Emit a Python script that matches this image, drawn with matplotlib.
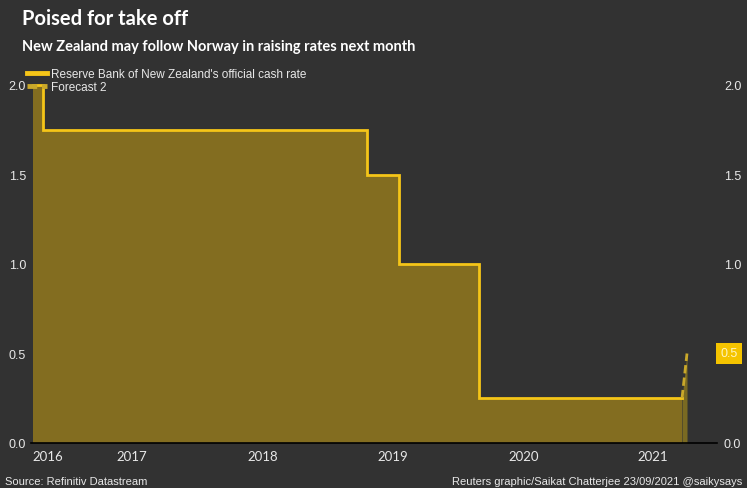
import pandas as pd
import matplotlib.pyplot as plt
import matplotlib.transforms as mtransforms
from matplotlib.lines import Line2D

# RBNZ official cash rate (step changes)
rate_dates = ["2016-10-14", "2016-11-10", "2019-05-08", "2019-08-07", "2020-03-16", "2021-10-07"]
rate_values = [2.0, 1.75, 1.5, 1.0, 0.25, 0.25]

# forecast leg
forecast_dates = ["2021-10-07", "2021-10-21"]
forecast_values = [0.25, 0.5]

tick_dates = ["2016-11-25", "2017-07-19", "2018-07-20", "2019-07-19", "2020-07-19", "2021-07-17"]
tick_labels = ["2016", "2017", "2018", "2019", "2020", "2021"]
y_ticks = [0.0, 0.5, 1.0, 1.5, 2.0]
highlight_value = 0.5

BG = "#323232"
FILL = "#836d20"
LINE = "#f5c518"
TXT = "#e8e8e8"
NARROW = ["Liberation Sans", "DejaVu Sans"]
HEAD = ["Lato", "DejaVu Sans"]

rd = pd.to_datetime(rate_dates)
fd = pd.to_datetime(forecast_dates)

fig = plt.figure(figsize=(7.47, 4.89), dpi=100, facecolor=BG)
W, H = 747, 489
left, right, bottom = 33, 687, 444
ymax = 2.2
top = bottom - ymax * 179
ax = fig.add_axes([left / W, 1 - bottom / H, (right - left) / W, (bottom - top) / H])
ax.set_facecolor(BG)

ax.fill_between(rd, rate_values, step="post", color=FILL, lw=0)
ax.fill_between(fd, forecast_values, color="#7a6a22", lw=0)
ax.step(rd, rate_values, where="post", color=LINE, lw=2, clip_on=False, solid_joinstyle="miter")
ax.plot(fd, forecast_values, color="#c9a82a", lw=2, ls=(0, (3, 1.5)), clip_on=False)

ax.set_xlim(rd[0], fd[-1])
ax.set_ylim(0, ymax)

for s in ax.spines.values():
    s.set_visible(False)

# baseline extending toward the right-hand labels
ax.plot([-0.003, 1.046], [0, 0], color="black", lw=1.2, transform=ax.get_yaxis_transform(), clip_on=False)

ax.set_xticks(pd.to_datetime(tick_dates))
ax.set_xticklabels(tick_labels)
ax.set_yticks(y_ticks)
ax.set_yticklabels([f"{v:.1f}" for v in y_ticks])
ax.tick_params(axis="x", length=0, pad=5, colors=TXT, labelsize=9.5)
ax.tick_params(axis="y", length=0, colors=TXT, labelsize=9, pad=5,
               labelright=True, labelleft=True)
for lab in ax.get_xticklabels():
    lab.set_family(HEAD)

offset = mtransforms.ScaledTranslation(30 / 100, 0, fig.dpi_scale_trans)
for v, t in zip(y_ticks, ax.yaxis.get_major_ticks()):
    t.label1.set_family(NARROW)
    t.label2.set_family(NARROW)
    t.label2.set_horizontalalignment("left")
    t.label2.set_transform(t.label2.get_transform() + offset)
    if v == highlight_value:
        t.label2.set_visible(False)

# highlighted latest value
ax.text(1.051, highlight_value, f"{highlight_value:.1f}", transform=ax.get_yaxis_transform(),
        ha="left", va="center", fontsize=9, color="#fff4c0", family=NARROW,
        bbox=dict(boxstyle="square,pad=0.35", fc="#f5c400", ec="none"))

# legend
handles = [Line2D([], [], color=LINE, lw=3.5),
           Line2D([], [], color="#c9a82a", lw=3.5, ls=(0, (2, 1)))]
leg = ax.legend(handles, ["Reserve Bank of New Zealand's official cash rate", "Forecast 2"],
                loc="upper left", frameon=False,
                handlelength=1.7, handletextpad=0.3, labelspacing=0.05, borderaxespad=0.2,
                prop={"family": NARROW, "size": 8.5})
leg.set_bbox_to_anchor((-0.02, (bottom - 62) / (bottom - top)), transform=ax.transAxes)
for t in leg.get_texts():
    t.set_color(TXT)

fig.text(22 / W, 1 - 19 / H, "Poised for take off", color="white", fontsize=14.5,
         fontweight="bold", family=HEAD, va="center", ha="left")
fig.text(22 / W, 1 - 47 / H, "New Zealand may follow Norway in raising rates next month", color="white",
         fontsize=10.5, fontweight="bold", family=HEAD, va="center", ha="left")
fig.text(5 / W, 1 - 482 / H, "Source: Refinitiv Datastream", color=TXT, fontsize=8,
         family=NARROW, va="center", ha="left")
fig.text(742 / W, 1 - 482 / H, "Reuters graphic/Saikat Chatterjee 23/09/2021 @saikysays", color=TXT,
         fontsize=8, family=NARROW, va="center", ha="right")

fig.savefig("out.png", dpi=100, facecolor=BG)
